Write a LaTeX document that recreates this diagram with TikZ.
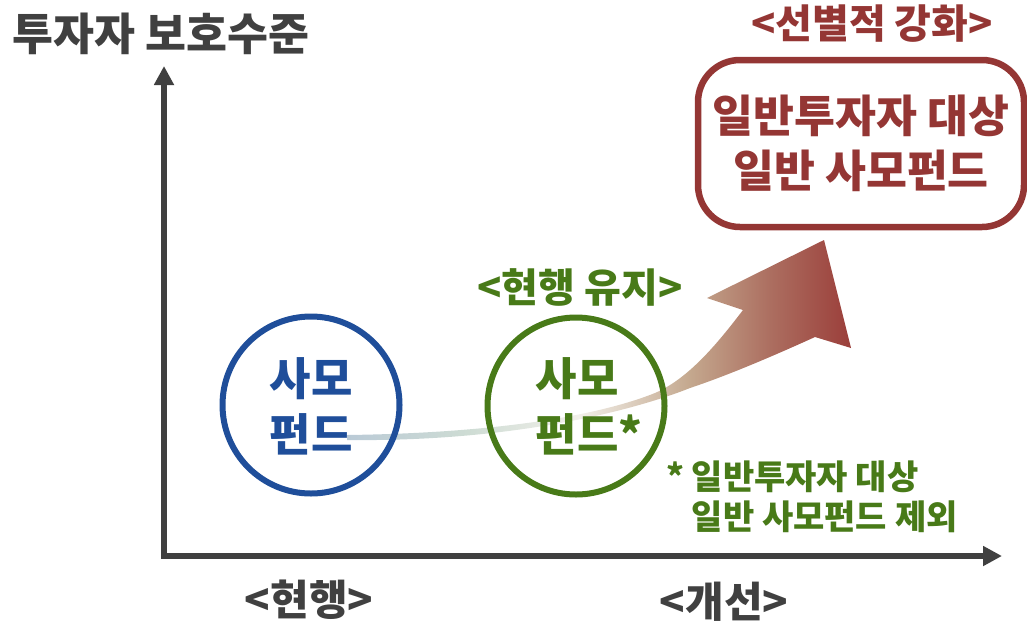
\documentclass[tikz,border=0pt]{standalone}
\usepackage{fontspec}
\setmainfont{Noto Sans CJK KR}
\usetikzlibrary{arrows.meta}
\definecolor{axisgray}{RGB}{64,64,64}
\definecolor{fundblue}{RGB}{31,78,154}
\definecolor{keepgreen}{RGB}{72,122,24}
\definecolor{boxred}{RGB}{148,54,52}
\definecolor{scA}{RGB}{186,202,214}
\definecolor{scB}{RGB}{206,220,212}
\definecolor{scC}{RGB}{242,240,234}
\definecolor{scD}{RGB}{196,168,142}
\definecolor{scE}{RGB}{172,110,96}
\definecolor{scF}{RGB}{155,62,58}
\pgfdeclarehorizontalshading{bandshade}{100bp}{color(0bp)=(scA); color(25bp)=(scA); color(37bp)=(scB); color(48bp)=(scC); color(59bp)=(scD); color(67bp)=(scE); color(75bp)=(scF); color(100bp)=(scF)}
\begin{document}
\begin{tikzpicture}[x=1pt,y=-1pt,
  every node/.style={inner sep=0pt, outer sep=0pt},
  axisline/.style={line width=6.5pt, draw=axisgray, line join=miter,
    {Triangle[length=19pt,width=19pt]}-{Triangle[length=19pt,width=19pt]}},
  ring/.style={circle, draw=#1, line width=6pt, minimum size=177pt},
  darklabel/.style={text=axisgray, font=\fontsize{42}{48}\selectfont\bfseries},
  ringtext/.style={text=#1, font=\fontsize{45}{56}\selectfont\bfseries},
  hdr/.style={text=#1, font=\fontsize{40}{46}\selectfont\bfseries}
]
\useasboundingbox (0,0) rectangle (1027,627);

% axes
\coordinate (ytip) at (164,66);
\coordinate (xtip) at (1002,556);
\draw[axisline] (ytip) |- (xtip);

% axis labels
\node[text=axisgray, font=\fontsize{44.5}{50}\selectfont\bfseries] (ytitle) at (161,34) {투자자 보호수준};
\node[darklabel] (now) at (309,600) {<현행>};
\node[darklabel] (improved) at (724,602) {<개선>};

% shaded rising arrow
\shade[shading=bandshade]
  (347,435) .. controls (500,433) and (600,415) .. (655,393)
  .. controls (690,378) and (720,340) .. (743,310)
  -- (707,298) -- (824,240) -- (851,348) -- (815,337)
  .. controls (760,362) and (720,378) .. (690,388)
  .. controls (640,408) and (520,442) .. (347,440) -- cycle;

% current fund
\node[ring=fundblue] (pe1) at (311,405) {};
\node[ringtext=fundblue, align=center] (pe1t) at (311,406) {사모\\펀드};

% kept fund
\node[ring=keepgreen] (pe2) at (576,406) {};
\node[ringtext=keepgreen, align=left] (pe2t) at (589,406) {사모\\펀드*};
\node[hdr=keepgreen] (keep) at (580,287) {<현행 유지>};
\node[text=keepgreen, font=\fontsize{34}{40}\selectfont\bfseries, align=left, anchor=west] (note) at (666,497) {* 일반투자자 대상\\\phantom{* }일반 사모펀드 제외};

% strengthened box
\node[draw=boxred, line width=6.5pt, rounded corners=42pt, minimum width=326pt, minimum height=167pt,
  text=boxred, font=\fontsize{44.5}{55}\selectfont\bfseries, align=center] (box) at (861,143.5) {일반투자자 대상\\일반 사모펀드};
\node[hdr=boxred] (strong) at (872,24) {<선별적 강화>};
\end{tikzpicture}
\end{document}
